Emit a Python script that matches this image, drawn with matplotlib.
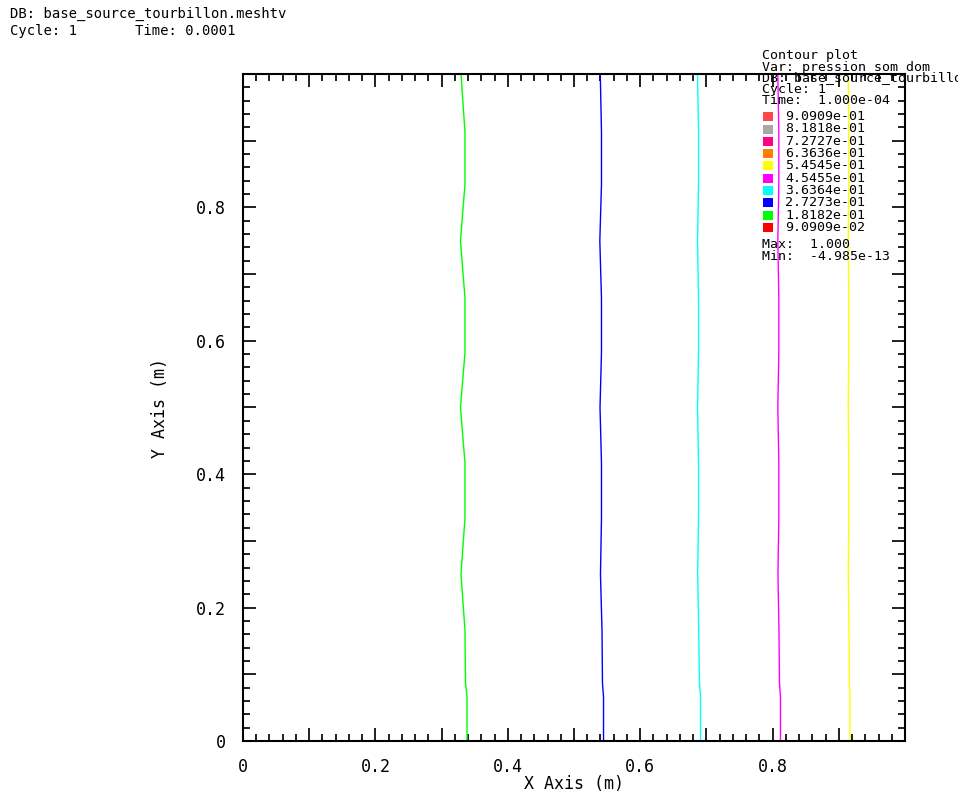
import matplotlib
matplotlib.use("Agg")
import matplotlib.pyplot as plt
from matplotlib.patches import Rectangle
from matplotlib.ticker import MultipleLocator, FuncFormatter

W, H = 958, 795
MONO = "DejaVu Sans Mono"

# contour lines of pression_som_dom, traced along y
y_pts = [0.0, 0.066, 0.087, 0.166, 0.25, 0.334, 0.417, 0.5, 0.582, 0.664, 0.75, 0.834, 0.913, 1.0]
x_green = [0.3384, 0.3384, 0.3361, 0.3353, 0.3293, 0.3353, 0.3353, 0.3285, 0.3353, 0.3353, 0.3285, 0.3353, 0.3353, 0.3293]
x_blue = [0.5446, 0.5446, 0.5430, 0.5423, 0.5400, 0.5415, 0.5415, 0.5393, 0.5415, 0.5415, 0.5390, 0.5415, 0.5415, 0.5397]
x_cyan = [0.6911, 0.6911, 0.6895, 0.6884, 0.6868, 0.6881, 0.6881, 0.6866, 0.6881, 0.6881, 0.6866, 0.6881, 0.6881, 0.6866]
x_magenta = [0.8119, 0.8119, 0.8104, 0.8096, 0.8081, 0.8094, 0.8094, 0.8079, 0.8094, 0.8094, 0.8079, 0.8094, 0.8094, 0.8079]
x_yellow = [0.9169, 0.9169, 0.9160, 0.9154, 0.9143, 0.9151, 0.9151, 0.9142, 0.9151, 0.9151, 0.9142, 0.9151, 0.9151, 0.9142]

lines = [(x_green, "#00ff00"), (x_blue, "#0000ff"), (x_cyan, "#00ffff"),
         (x_magenta, "#ff00ff"), (x_yellow, "#ffff00")]

levels = ["9.0909e-01", "8.1818e-01", "7.2727e-01", "6.3636e-01", "5.4545e-01",
          "4.5455e-01", "3.6364e-01", "2.7273e-01", "1.8182e-01", "9.0909e-02"]
level_colors = ["#ff4848", "#a8a8a8", "#ff0080", "#ff8000", "#ffff00",
                "#ff00ff", "#00ffff", "#0000ff", "#00ff00", "#ff0000"]

fig = plt.figure(figsize=(W / 100, H / 100), dpi=100)
ax = fig.add_axes([243 / W, 1 - 741 / H, 662 / W, 667 / H])

for xs, c in lines:
    ax.plot(xs, y_pts, color=c, lw=1.0)

ax.set_xlim(0, 1)
ax.set_ylim(0, 1)

def lab(v, pos):
    k = int(round(v * 10))
    if k % 2 or k >= 10:
        return ""
    return "0" if k == 0 else "%.1f" % v

for a in (ax.xaxis, ax.yaxis):
    a.set_major_locator(MultipleLocator(0.1))
    a.set_minor_locator(MultipleLocator(0.02))
    a.set_major_formatter(FuncFormatter(lab))

ax.tick_params(which="both", direction="in", top=True, right=True,
               width=1.4, color="#202020", labelsize=12)
ax.tick_params(which="major", length=9.4)
ax.tick_params(which="minor", length=5)
ax.tick_params(axis="x", pad=12)
ax.tick_params(axis="y", pad=12)
for t in ax.get_xticklabels() + ax.get_yticklabels():
    t.set_family(MONO)
for s in ax.spines.values():
    s.set_linewidth(1.5)

ax.set_xlabel("X Axis (m)", family=MONO, fontsize=12, va="center")
ax.xaxis.set_label_coords(0.5, (741 - 784) / 667)
ax.set_ylabel("Y Axis (m)", family=MONO, fontsize=12, va="center")
ax.yaxis.set_label_coords((160 - 243) / 662, 0.5)

def ftext(x, y, s, size=10):
    fig.text(x / W, 1 - y / H, s, family=MONO, fontsize=size, va="center", ha="left")

ftext(10, 14, "DB: base_source_tourbillon.meshtv")
ftext(10, 31, "Cycle: 1")
ftext(135, 31, "Time: 0.0001")

# legend block, partly over the plot area
LS = 9.5
ftext(762, 55, "Contour plot", LS)
ftext(762, 67, "Var: pression_som_dom", LS)
ftext(762, 78, "DB: base_source_tourbillon.meshtv", LS)
ftext(762, 89, "Cycle: 1", LS)
ftext(762, 101, "Time:  1.000e-04", LS)

for i, (s, c) in enumerate(zip(levels, level_colors)):
    yc = 116.7 + i * 12.3
    fig.add_artist(Rectangle((763 / W, 1 - (yc + 4.5) / H), 10 / W, 9 / H,
                             transform=fig.transFigure, color=c, lw=0))
    ftext(785, yc, s, LS)

ftext(762, 244, "Max:  1.000", LS)
ftext(762, 256, "Min:  -4.985e-13", LS)

fig.savefig("out.png", dpi=100)
